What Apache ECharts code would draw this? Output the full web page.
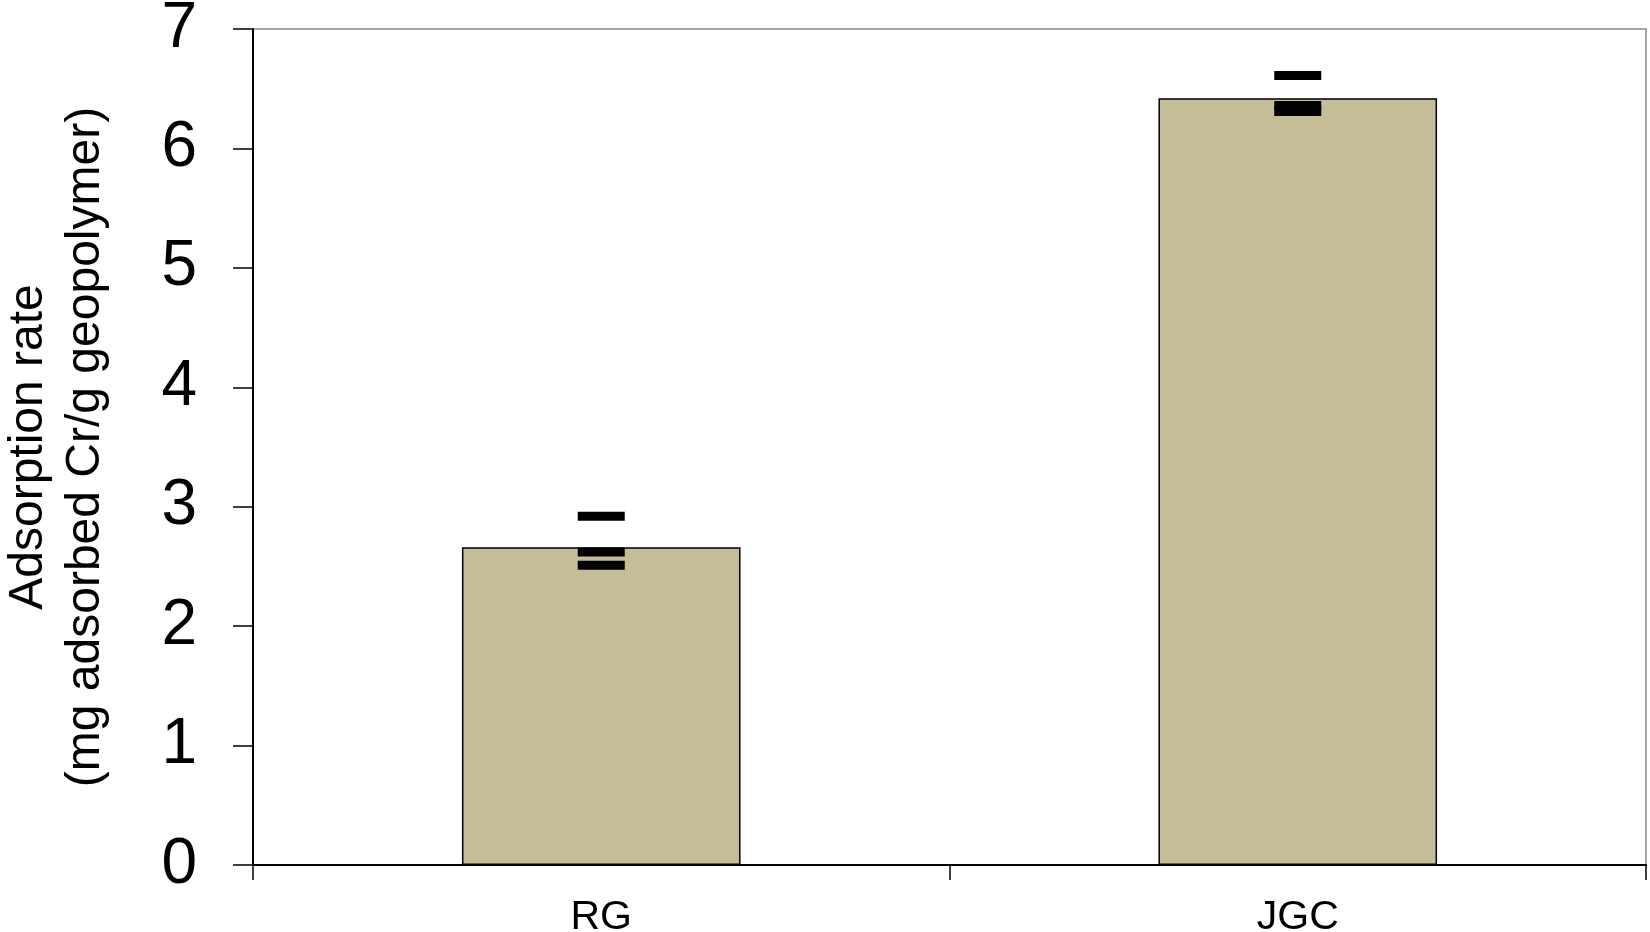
<!DOCTYPE html>
<html>
<head>
<meta charset="utf-8">
<script src="https://cdn.jsdelivr.net/npm/echarts@6/dist/echarts.min.js"></script>
<style>
html,body{margin:0;padding:0;background:#fff;}
#chart{width:1650px;height:932px;}
</style>
</head>
<body>
<div id="chart"></div>
<script>
// ---- data ----
var categories = ['RG', 'JGC'];
var meanValues = [2.66, 6.42];
var capsRG = [2.92, 2.62, 2.51];
var capsJGC = [6.61, 6.36, 6.31];
var yTicks = [0, 1, 2, 3, 4, 5, 6, 7];
var yTitle = 'Adsorption rate\n(mg adsorbed Cr/g geopolymer)';

var FONT = '"Liberation Sans", Arial, Helvetica, sans-serif';

var capData = [];
capsRG.forEach(function (v) { capData.push([0, v]); });
capsJGC.forEach(function (v) { capData.push([1, v]); });

var chart = echarts.init(document.getElementById('chart'), null, {renderer: 'canvas'});
chart.setOption({
  animation: false,
  backgroundColor: '#ffffff',
  grid: {
    left: 253, right: 4, top: 29, bottom: 67,
    containLabel: false,
    outerBoundsMode: 'none',
    show: true, borderColor: '#8a8a8a', borderWidth: 1.5, backgroundColor: 'transparent'
  },
  xAxis: {
    type: 'category',
    data: categories,
    boundaryGap: true,
    axisLine: {lineStyle: {color: '#000', width: 2}},
    axisTick: {show: true, inside: false, length: 15, lineStyle: {color: '#000', width: 1.5}},
    axisLabel: {color: '#000', fontSize: 41, fontFamily: FONT, margin: 32},
    splitLine: {show: false}
  },
  yAxis: {
    type: 'value',
    min: yTicks[0], max: yTicks[yTicks.length - 1], interval: 1,
    name: yTitle,
    nameLocation: 'middle',
    nameRotate: 90,
    nameGap: 139,
    nameTextStyle: {color: '#000', fontSize: 48, fontFamily: FONT, lineHeight: 57},
    axisLine: {show: true, lineStyle: {color: '#000', width: 2}},
    axisTick: {show: true, inside: false, length: 20, lineStyle: {color: '#000', width: 1.5}},
    axisLabel: {color: '#000', fontSize: 64, fontFamily: FONT, margin: 56},
    splitLine: {show: false}
  },
  series: [
    {
      type: 'bar',
      data: meanValues,
      barWidth: '40%',
      itemStyle: {color: '#c5bd98', borderColor: '#000', borderWidth: 1.5},
      z: 2
    },
    {
      type: 'scatter',
      data: capData,
      symbol: 'rect',
      symbolSize: [47, 9],
      itemStyle: {color: '#000', opacity: 1},
      z: 5
    }
  ]
});
</script>
</body>
</html>
